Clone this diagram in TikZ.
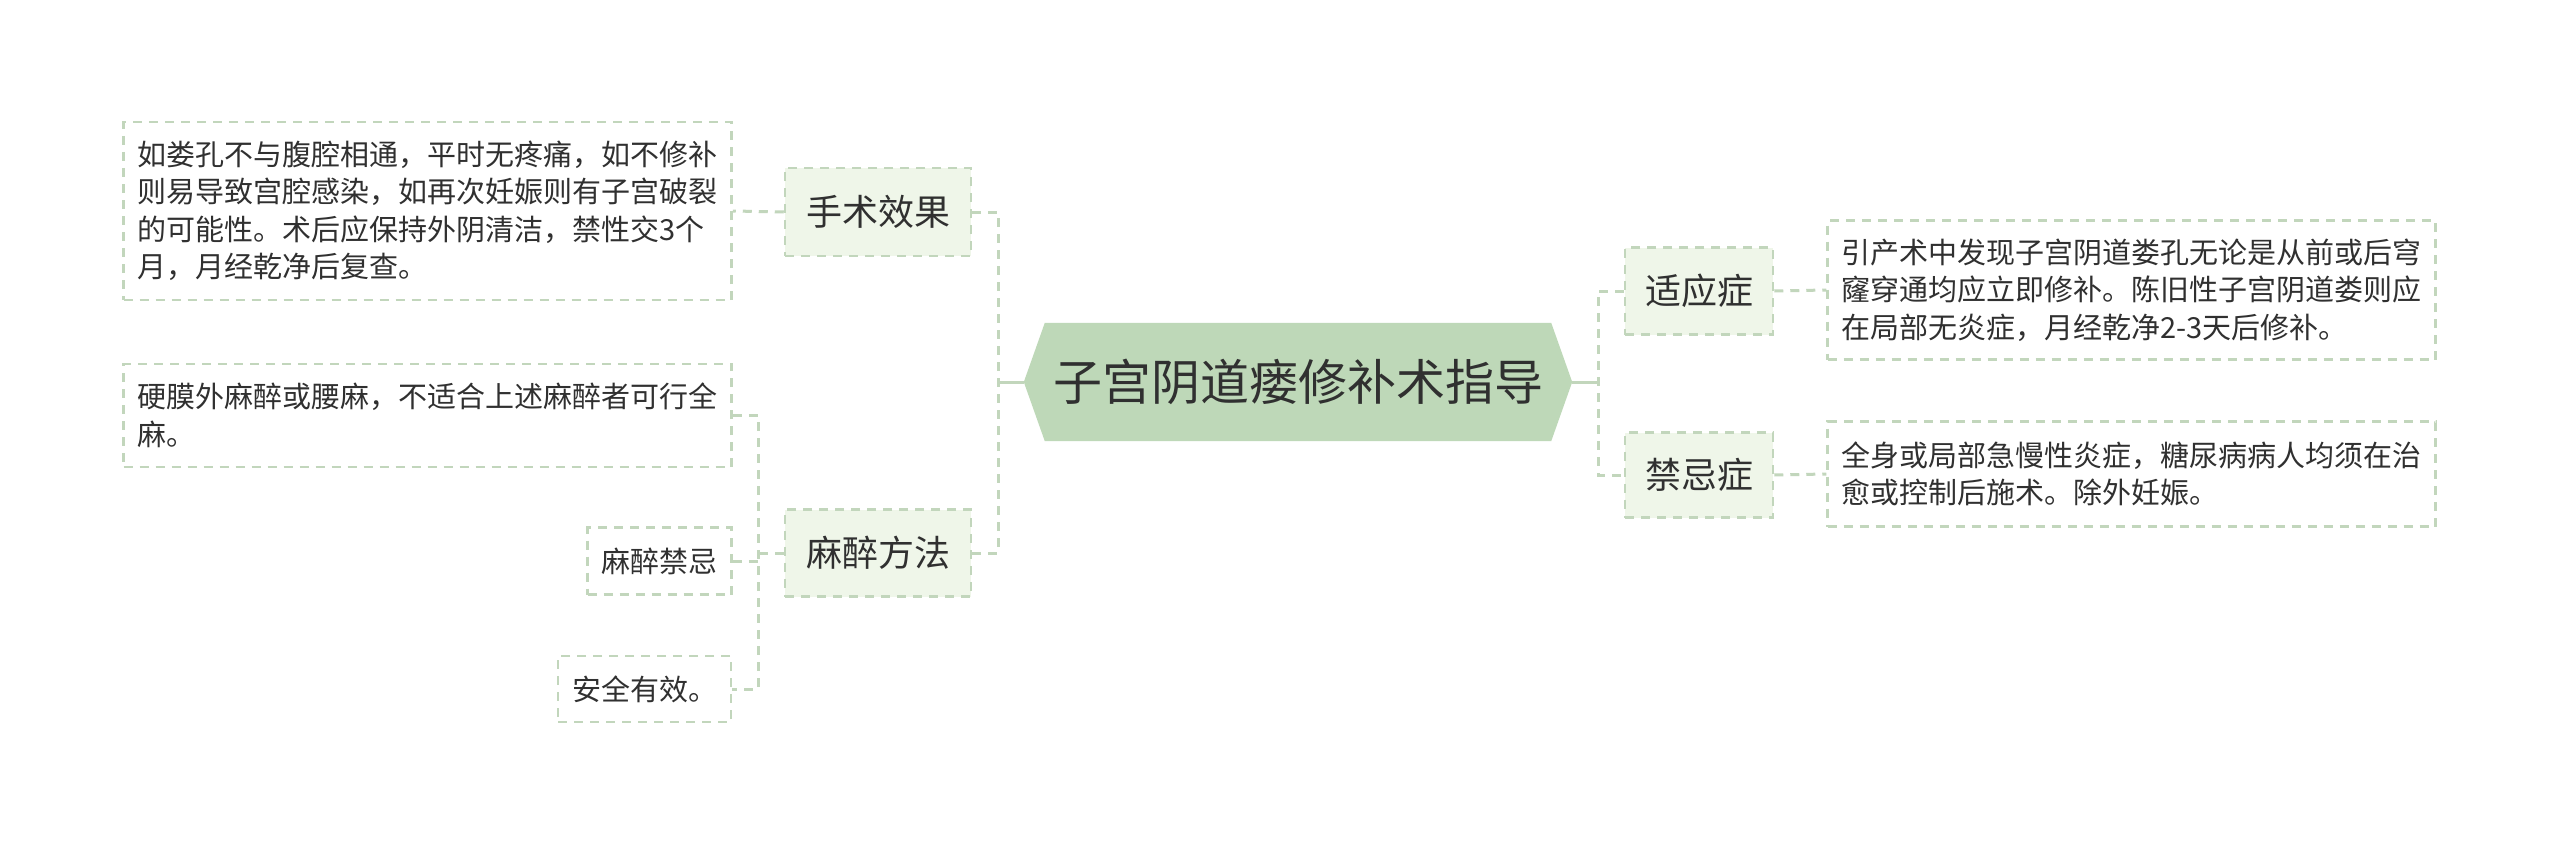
\documentclass[tikz,border=0pt]{standalone}
\usepackage{fontspec}
\setmainfont{Noto Sans CJK SC}
\usetikzlibrary{backgrounds}
\definecolor{linec}{RGB}{194,214,188}
\definecolor{centerfill}{RGB}{190,216,184}
\definecolor{lvlfill}{RGB}{239,246,233}
\definecolor{txt}{RGB}{48,48,48}
\tikzset{
  dashline/.style={draw=linec, line width=3pt, dash pattern=on 9pt off 7pt},
  solidline/.style={draw=linec, line width=3pt},
  lvlbox/.style={draw=linec, line width=2.5pt, dash pattern=on 9pt off 7pt, fill=lvlfill,
    inner sep=0pt, font=\fontsize{36}{44}\selectfont, text=txt},
  leafbox/.style={draw=linec, line width=2.5pt, dash pattern=on 9pt off 7pt, fill=white,
    inner xsep=14pt, inner ysep=0pt, font=\fontsize{29}{37.5}\selectfont, text=txt},
  longleaf/.style={leafbox, text width=580pt, align=left},
}
\begin{document}
\begin{tikzpicture}[x=1pt,y=-1pt]
\useasboundingbox (0,0) rectangle (2560,848);

% centre
\node[minimum width=548pt, minimum height=118pt, inner sep=0pt,
      font=\fontsize{49}{58}\selectfont, text=txt] (c) at (1298,382) {子宫阴道瘘修补术指导};
\begin{scope}[on background layer]
\fill[white] (0,0) rectangle (2560,848);
\fill[centerfill] (c.west) -- ([xshift=21pt]c.north west) -- ([xshift=-21pt]c.north east)
  -- (c.east) -- ([xshift=-21pt]c.south east) -- ([xshift=21pt]c.south west) -- cycle;
\end{scope}

% level 1
\node[lvlbox, minimum width=186pt, minimum height=88pt] (shu) at (878,212) {手术效果};
\node[lvlbox, minimum width=186pt, minimum height=87pt] (mz) at (878,553) {麻醉方法};
\node[lvlbox, minimum width=148pt, minimum height=87pt] (sy) at (1699,291) {适应症};
\node[lvlbox, minimum width=148pt, minimum height=85pt] (jj) at (1699,475) {禁忌症};

% leaves
\node[longleaf, minimum height=178pt] (shut) at (427.5,211)
  {如娄孔不与腹腔相通，平时无疼痛，如不修补\\则易导致宫腔感染，如再次妊娠则有子宫破裂\\的可能性。术后应保持外阴清洁，禁性交3个\\月，月经乾净后复查。};
\node[longleaf, minimum height=103pt] (ym) at (427.5,415.5)
  {硬膜外麻醉或腰麻，不适合上述麻醉者可行全\\麻。};
\node[leafbox, minimum width=143pt, minimum height=67pt] (mzjj) at (659.5,561) {麻醉禁忌};
\node[leafbox, minimum width=173pt, minimum height=66pt] (aq) at (644.5,689) {安全有效。};
\node[longleaf, minimum height=139pt] (syt) at (2131.5,290)
  {引产术中发现子宫阴道娄孔无论是从前或后穹\\窿穿通均应立即修补。陈旧性子宫阴道娄则应\\在局部无炎症，月经乾净2-3天后修补。};
\node[longleaf, minimum height=105pt] (jjt) at (2131.5,474)
  {全身或局部急慢性炎症，糖尿病病人均须在治\\愈或控制后施术。除外妊娠。};

% trunk coordinates
\coordinate (tl) at (998,382);
\coordinate (tr) at (1598,382);
\coordinate (tm) at (758,553);

% connectors
\draw[solidline] (c.west) -- (tl);
\draw[dashline] (shu.east) -- (shu.east -| tl) -- (mz.east -| tl) -- (mz.east);
\draw[solidline] (c.east) -- (tr);
\draw[dashline] (sy.west) -- (sy.west -| tr) -- (jj.west -| tr) -- (jj.west);
\draw[dashline] (shu.west) -- (shut.east);
\draw[dashline] (sy.east) -- (syt.west);
\draw[dashline] (jj.east) -- (jjt.west);
\draw[dashline] (mz.west) -- (tm);
\draw[dashline] (ym.east) -- (ym.east -| tm) -- (aq.east -| tm) -- (aq.east);
\draw[dashline] (mzjj.east) -- (mzjj.east -| tm);
\end{tikzpicture}
\end{document}
